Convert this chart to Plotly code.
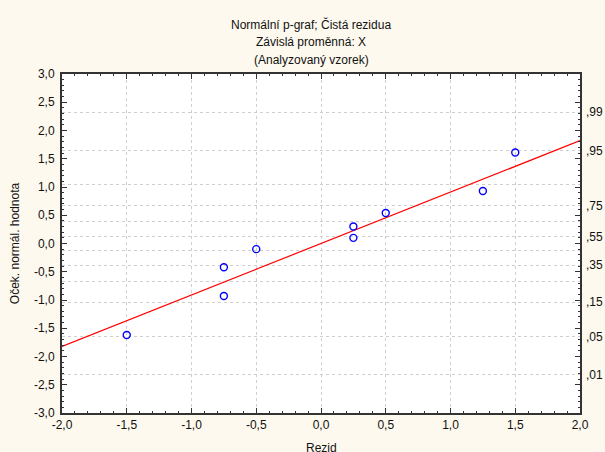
import plotly.graph_objects as go
from statistics import NormalDist

# ---- data ----
resid = [-1.5, -0.75, -0.75, -0.5, 0.25, 0.25, 0.5, 1.25, 1.5]
expected_normal = [-1.62, -0.42, -0.93, -0.10, 0.30, 0.10, 0.54, 0.93, 1.61]
fit_x = [-2.0, 2.0]
fit_y = [-1.82, 1.82]

x_tickvals = [-2.0, -1.5, -1.0, -0.5, 0.0, 0.5, 1.0, 1.5, 2.0]
x_ticktext = ["-2,0", "-1,5", "-1,0", "-0,5", "0,0", "0,5", "1,0", "1,5", "2,0"]
y_tickvals = [-3.0, -2.5, -2.0, -1.5, -1.0, -0.5, 0.0, 0.5, 1.0, 1.5, 2.0, 2.5, 3.0]
y_ticktext = ["-3,0", "-2,5", "-2,0", "-1,5", "-1,0", "-0,5", "0,0",
              "0,5", "1,0", "1,5", "2,0", "2,5", "3,0"]
prob_levels = [0.01, 0.05, 0.15, 0.25, 0.35, 0.45, 0.55, 0.65, 0.75, 0.85, 0.95, 0.99]
prob_labels = [",01", ",05", ",15", "", ",35", "", ",55", "", ",75", "", ",95", ",99"]

title_lines = ["Normální p-graf; Čistá rezidua", "Závislá proměnná: X", "(Analyzovaný vzorek)"]
x_title = "Rezid"
y_title = "Oček. normál. hodnota"

# ---- figure ----
FONT = "Liberation Sans, Arial, sans-serif"
prob_pos = [NormalDist().inv_cdf(p) for p in prob_levels]

fig = go.Figure()
fig.add_trace(go.Scatter(x=fit_x, y=fit_y, mode="lines",
                         line=dict(color="#ff0000", width=1.2),
                         showlegend=False, hoverinfo="skip"))
fig.add_trace(go.Scatter(x=resid, y=expected_normal, mode="markers",
                         marker=dict(symbol="circle-open", size=7, color="#0000ff",
                                     line=dict(width=1.4, color="#0000ff")),
                         showlegend=False))
fig.add_trace(go.Scatter(x=[None], y=[None], yaxis="y2", showlegend=False,
                         hoverinfo="skip"))

grid = dict(gridcolor="#cfcfcf", griddash="dot", gridwidth=1)

fig.update_layout(
    width=605, height=452,
    margin=dict(l=62, r=25, t=74, b=39, autoexpand=False),
    paper_bgcolor="#fdf9ee", plot_bgcolor="#ffffff",
    font=dict(family=FONT, size=12, color="#111111"),
    xaxis=dict(range=[-2, 2], tickvals=x_tickvals, ticktext=x_ticktext,
               showgrid=True, **grid, zeroline=False,
               showline=True, linecolor="#333333", linewidth=1.5, mirror="ticks",
               ticks="inside", ticklen=5, tickcolor="#333333", tickwidth=1,
               minor=dict(dtick=0.1, tick0=0, ticks="inside", ticklen=2,
                          tickcolor="#333333", showgrid=False),
               automargin=False),
    yaxis=dict(range=[-3, 3], tickvals=y_tickvals, ticktext=y_ticktext,
               showgrid=False, zeroline=False,
               showline=True, linecolor="#333333", linewidth=2, mirror="ticks",
               ticks="inside", ticklen=5, tickcolor="#333333", tickwidth=1,
               minor=dict(dtick=0.1, tick0=0, ticks="inside", ticklen=2,
                          tickcolor="#333333", showgrid=False),
               ticklabelstandoff=3,
               title=dict(text=y_title, standoff=12, font=dict(size=12)),
               automargin=False),
    yaxis2=dict(range=[-3, 3], overlaying="y", side="right",
                tickvals=prob_pos, ticktext=prob_labels,
                showgrid=True, **grid, zeroline=False, showline=False,
                ticks="", ticklabelstandoff=5, automargin=False),
)

for i, t in enumerate(title_lines):
    fig.add_annotation(text=t, xref="paper", yref="paper", x=0.5, y=1,
                       xanchor="center", yanchor="middle", showarrow=False,
                       xshift=311 - (62 + 518 / 2), yshift=74 - (24 + 18 * i),
                       font=dict(family=FONT, size=12, color="#111111"))

fig.add_annotation(text=x_title, xref="paper", yref="paper", x=0.5, y=0,
                   xanchor="center", yanchor="middle", showarrow=False,
                   yshift=-35, font=dict(family=FONT, size=12, color="#111111"))

fig.write_html("out.html")
